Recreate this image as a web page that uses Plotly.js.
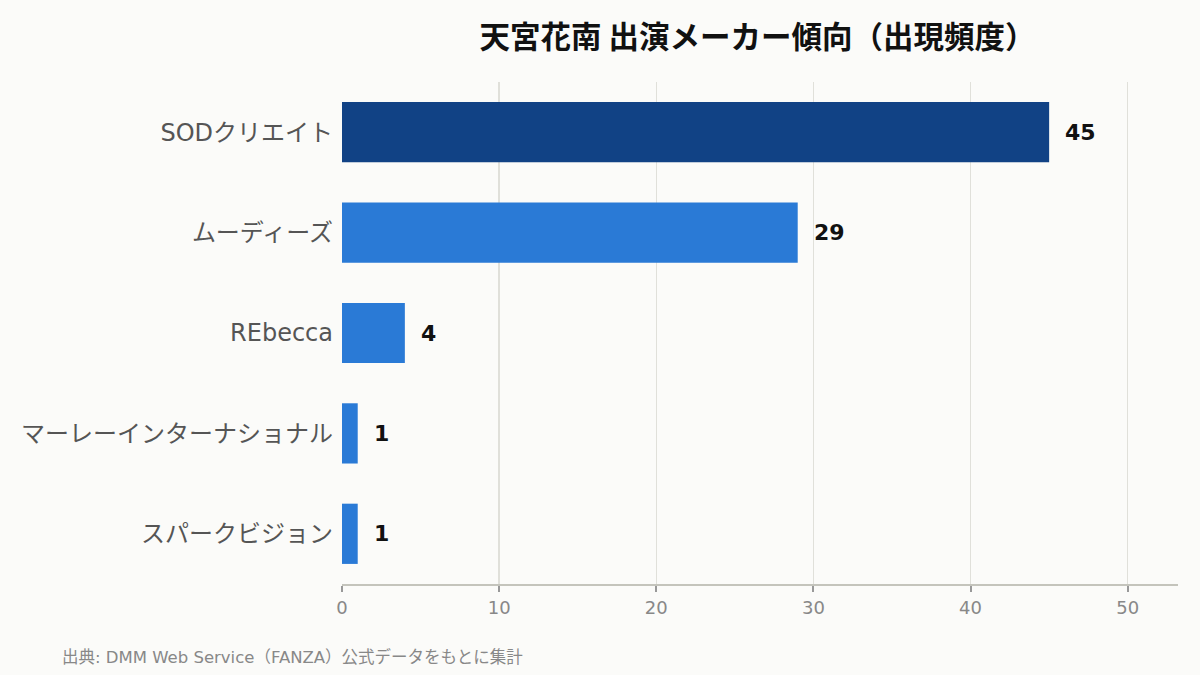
<!DOCTYPE html>
<html>
<head>
<meta charset="utf-8">
<script src="https://cdn.plot.ly/plotly-3.0.1.min.js"></script>
<style>
  html, body { margin: 0; padding: 0; background: #fbfbf9; }
  #chart { width: 1200px; height: 675px; }
</style>
</head>
<body>
<div id="chart"></div>
<script>
const makers = ['SODクリエイト', 'ムーディーズ', 'REbecca', 'マーレーインターナショナル', 'スパークビジョン'];
const counts = [45, 29, 4, 1, 1];
const barColors = ['#114285', '#2a7ad6', '#2a7ad6', '#2a7ad6', '#2a7ad6'];
const xTicks = [0, 10, 20, 30, 40, 50];

const font = '"DejaVu Sans", "Noto Sans CJK JP", sans-serif';

const bars = {
    type: 'bar',
    orientation: 'h',
    x: counts,
    y: makers,
    width: 0.6,
    marker: { color: barColors },
    hoverinfo: 'none'
};

// value labels next to each bar end
const valueLabels = counts.map((c, i) => ({
    x: c,
    y: makers[i],
    xref: 'x',
    yref: 'y',
    text: `<b>${c}</b>`,
    showarrow: false,
    xanchor: 'left',
    xshift: 14,
    font: { family: font, size: 22, color: '#111111' }
}));

const layout = {
    width: 1200,
    height: 675,
    paper_bgcolor: '#fbfbf9',
    plot_bgcolor: '#fbfbf9',
    margin: { l: 342, r: 22, t: 82, b: 91 },
    font: { family: font },
    showlegend: false,
    title: {
        text: '<b>天宮花南 出演メーカー傾向（出現頻度）</b>',
        font: { family: '"Noto Sans CJK JP", sans-serif', size: 30.5, color: '#111111' },
        xref: 'paper',
        x: 0.497,
        y: 0.945,
        yanchor: 'middle'
    },
    xaxis: {
        range: [0, 53.2],
        tickvals: xTicks,
        showgrid: true,
        gridcolor: '#e0e0da',
        gridwidth: 1.5,
        zeroline: false,
        showline: true,
        linecolor: '#c4c4bc',
        linewidth: 2,
        ticks: 'outside',
        ticklen: 6,
        tickwidth: 2,
        tickcolor: '#999999',
        tickfont: { family: font, size: 18, color: '#888888' }
    },
    yaxis: {
        autorange: 'reversed',
        showgrid: false,
        zeroline: false,
        showline: false,
        ticks: '',
        ticklabelstandoff: 8,
        tickfont: { family: font, size: 24, color: '#555555' }
    },
    annotations: valueLabels.concat([{
        text: '出典: DMM Web Service（FANZA）公式データをもとに集計',
        xref: 'paper',
        yref: 'paper',
        x: (60 - 342) / 836,
        xanchor: 'left',
        y: -0.145,
        yanchor: 'middle',
        showarrow: false,
        font: { family: font, size: 16.5, color: '#888888' }
    }])
};

Plotly.newPlot('chart', [bars], layout, { displayModeBar: false, staticPlot: true });
</script>
</body>
</html>
